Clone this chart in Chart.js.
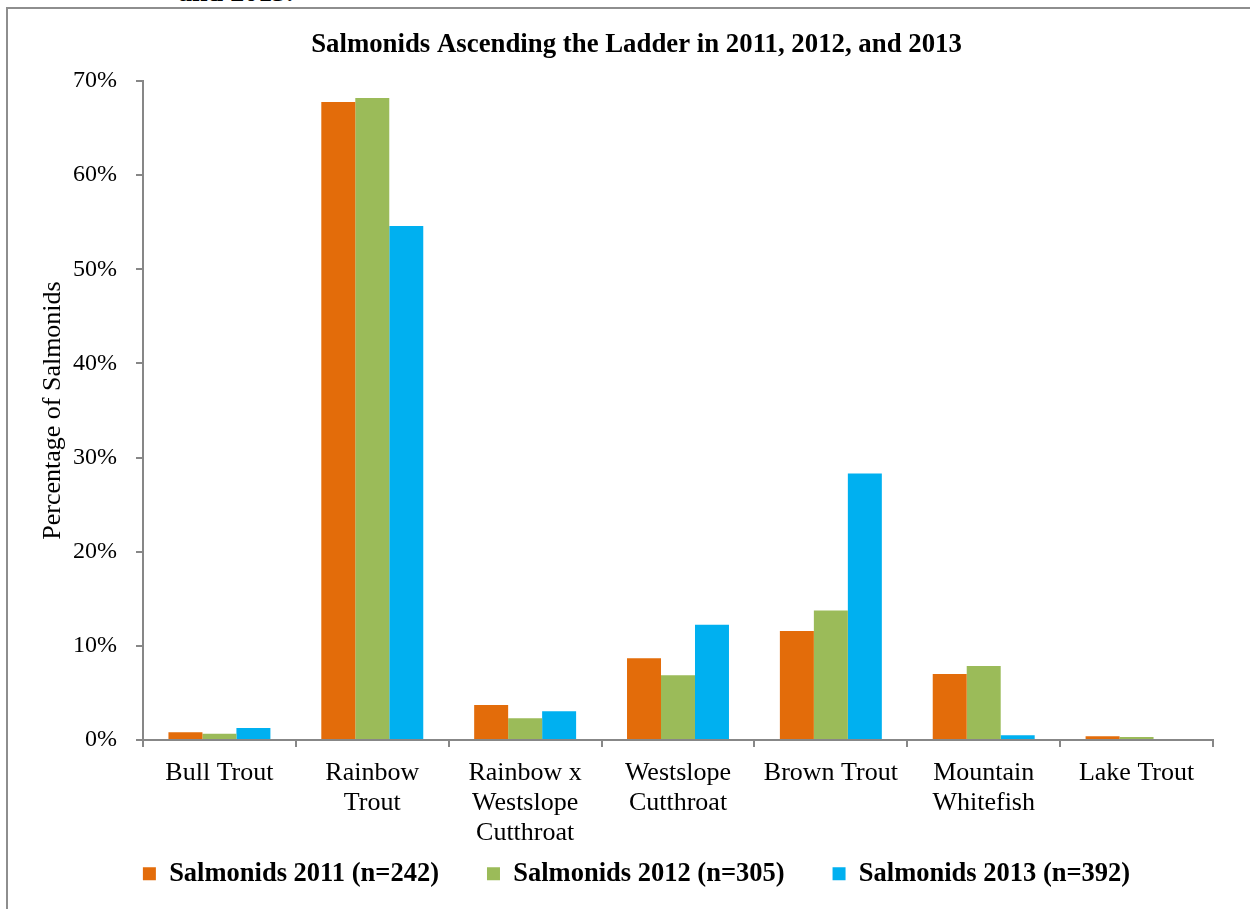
<!DOCTYPE html>
<html>
<head>
<meta charset="utf-8">
<script src="https://cdn.jsdelivr.net/npm/chart.js@4.4.1/dist/chart.umd.min.js"></script>
<style>
  html, body { margin: 0; padding: 0; background: #ffffff; overflow: hidden; }
  body { width: 1250px; height: 909px; position: relative; }
  #frame {
    position: absolute; left: 6px; top: 7px; width: 1400px; height: 1100px;
    border: 2px solid #8e8e8e; box-sizing: border-box;
  }
  #caption {
    position: absolute; left: 178px; top: -22.5px; margin: 0;
    font: bold 28px/1 "Liberation Serif", "Times New Roman", serif; color: #000;
    white-space: nowrap;
  }
  #chart { position: absolute; left: 0; top: 0; }
</style>
</head>
<body>
<p id="caption">and 2013.</p>
<div id="frame"></div>
<canvas id="chart" width="1250" height="909"></canvas>
<script>
// Species groups along the x axis (multi-line labels)
const categories = [
  ['Bull Trout'],
  ['Rainbow', 'Trout'],
  ['Rainbow x', 'Westslope', 'Cutthroat'],
  ['Westslope', 'Cutthroat'],
  ['Brown Trout'],
  ['Mountain', 'Whitefish'],
  ['Lake Trout']
];

// Share of all salmonids counted each year (percent)
const salmonids2011 = [0.83, 67.77, 3.72, 8.68, 11.57, 7.02, 0.41];
const salmonids2012 = [0.66, 68.20, 2.30, 6.89, 13.77, 7.87, 0.33];
const salmonids2013 = [1.28, 54.59, 3.06, 12.24, 28.32, 0.51, 0.00];

const seriesLabels = [
  'Salmonids 2011 (n=242)',
  'Salmonids 2012 (n=305)',
  'Salmonids 2013 (n=392)'
];

// Percentage axis tick values
const yTicks = [0, 10, 20, 30, 40, 50, 60, 70];

const serif = '"Liberation Serif", "Times New Roman", serif';
const axisGray = '#878787';

new Chart(document.getElementById('chart'), {
  type: 'bar',
  data: {
    labels: categories,
    datasets: [
      { label: seriesLabels[0], data: salmonids2011, backgroundColor: '#E36C0A' },
      { label: seriesLabels[1], data: salmonids2012, backgroundColor: '#9BBB59' },
      { label: seriesLabels[2], data: salmonids2013, backgroundColor: '#00B0F0' }
    ]
  },
  options: {
    responsive: false,
    animation: false,
    devicePixelRatio: 1,
    layout: { padding: { left: 60, right: 37, top: 0, bottom: 12 } },
    datasets: {
      bar: { barPercentage: 1.0, categoryPercentage: 0.667, borderWidth: 0 }
    },
    plugins: {
      title: {
        display: true,
        text: 'Salmonids Ascending the Ladder in 2011, 2012, and 2013',
        color: '#000',
        font: { family: serif, size: 26.8, weight: 'bold', lineHeight: 1.2 },
        padding: { top: 28.7, bottom: 20.2 }
      },
      legend: {
        position: 'bottom',
        labels: {
          color: '#000',
          boxWidth: 13,
          boxHeight: 13,
          padding: 48,
          font: { family: serif, size: 26.5, weight: 'bold' }
        }
      },
      tooltip: { enabled: false }
    },
    scales: {
      x: {
        grid: {
          display: true,
          offset: true,
          drawOnChartArea: false,
          drawTicks: true,
          tickLength: 7,
          color: axisGray,
          lineWidth: 2
        },
        border: { display: true, color: axisGray, width: 2 },
        ticks: {
          color: '#000',
          autoSkip: false,
          maxRotation: 0,
          minRotation: 0,
          // mirrored labels are not clipped to the axis box, so the
          // three-line labels can run down past the legend's top edge
          mirror: true,
          padding: -48,
          font: { family: serif, size: 26, lineHeight: 1.165 }
        },
        afterFit(scale) { scale.height = 72.5; }
      },
      y: {
        min: yTicks[0],
        max: yTicks[yTicks.length - 1],
        afterBuildTicks(scale) { scale.ticks = yTicks.map(v => ({ value: v })); },
        grid: {
          display: true,
          drawOnChartArea: false,
          drawTicks: true,
          tickLength: 7,
          color: axisGray,
          lineWidth: 2
        },
        border: { display: true, color: axisGray, width: 2 },
        ticks: {
          color: '#000',
          padding: 19,
          font: { family: serif, size: 24 },
          callback: v => v + '%'
        },
        title: {
          display: true,
          text: 'Percentage of Salmonids',
          color: '#000',
          font: { family: serif, size: 26, lineHeight: 1.2 },
          padding: { top: -22.6, bottom: 0 }
        },
        afterFit(scale) { scale.width = 83; }
      }
    }
  }
});
</script>
</body>
</html>
